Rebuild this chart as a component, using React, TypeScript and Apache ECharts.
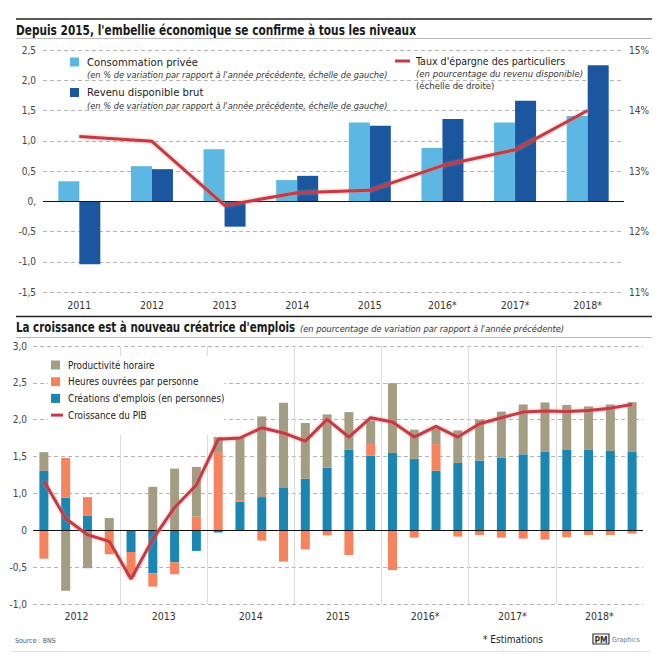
import React, { useEffect, useRef } from "react";
import * as echarts from "echarts";

// ---------- Top chart data ----------
const years = ["2011", "2012", "2013", "2014", "2015", "2016*", "2017*", "2018*"];
const consommation = [0.33, 0.58, 0.86, 0.35, 1.3, 0.88, 1.3, 1.41];
const revenu = [-1.04, 0.53, -0.42, 0.42, 1.25, 1.36, 1.66, 2.25];
const epargne = [13.57, 13.49, 12.43, 12.64, 12.68, 13.09, 13.35, 14.0];
const topLeftTicks = ["-1,5", "-1,0", "-0,5", "0,", "0,5", "1,0", "1,5", "2,0", "2,5"];
const topRightTicks = ["11%", "12%", "13%", "14%", "15%"];

// ---------- Bottom chart data ----------
const quarters = [
  "2012T1", "2012T2", "2012T3", "2012T4",
  "2013T1", "2013T2", "2013T3", "2013T4",
  "2014T1", "2014T2", "2014T3", "2014T4",
  "2015T1", "2015T2", "2015T3", "2015T4",
  "2016T1", "2016T2", "2016T3", "2016T4",
  "2017T1", "2017T2", "2017T3", "2017T4",
  "2018T1", "2018T2", "2018T3", "2018T4",
];
const bottomYears = ["2012", "2013", "2014", "2015", "2016*", "2017*", "2018*"];
const creations = [
  0.805, 0.44, 0.195, 0, -0.294, -0.584, -0.434, -0.28,
  -0.03, 0.39, 0.45, 0.575, 0.7, 0.85, 1.09, 1.01,
  1.05, 0.97, 0.81, 0.914, 0.946, 0.986, 1.03, 1.063,
  1.09, 1.09, 1.077, 1.063,
];
const heures = [
  -0.385, 0.54, 0.255, -0.325, -0.335, -0.18, -0.163, 0.186,
  1.06, 0.02, -0.14, -0.425, -0.26, -0.07, -0.335, 0.16,
  -0.54, -0.1, 0.36, -0.086, -0.063, -0.1, -0.113, -0.127,
  -0.095, -0.063, -0.063, -0.045,
];
const productivite = [
  0.255, -0.82, -0.515, 0.167, 0, 0.59, 0.837, 0.674,
  0.205, 0.855, 1.095, 1.155, 0.755, 0.722, 0.513, 0.32,
  0.945, 0.395, 0.208, 0.441, 0.554, 0.624, 0.677, 0.671,
  0.61, 0.59, 0.63, 0.675,
];
const pib = [
  0.67, 0.16, -0.06, -0.15, -0.66, -0.12, 0.31, 0.615,
  1.234, 1.252, 1.39, 1.32, 1.21, 1.504, 1.265, 1.527,
  1.468, 1.265, 1.41, 1.265, 1.446, 1.527, 1.603, 1.617,
  1.612, 1.626, 1.657, 1.707,
];
const bottomTicks = ["-1,0", "-0,5", "0", "1,0", "1,5", "2,0", "2,5", "3,0"];

const FONT = "'DejaVu Sans Condensed', 'Liberation Sans', sans-serif";
const C_LIGHT = "#5cb8e2";
const C_DARK = "#1b569e";
const C_RED = "#c23a45";
const C_TAN = "#a39d84";
const C_ORANGE = "#f5845e";
const C_TEAL = "#1a86b1";
const GRID_COLOR = "#b4b4b4";

const SQ = "path://M0,0h9v9h-9zM12,9";
const LN = "path://M0,0M12,9M0,3h12v3h-12z";

export default function App() {
  const ref = useRef<HTMLDivElement>(null);

  useEffect(() => {
    document.body.style.margin = "0";
    const chart = echarts.init(ref.current!, undefined, { renderer: "svg" });

    const dashed = { show: true, lineStyle: { color: GRID_COLOR, type: [4, 3] as any, width: 1 } };
    const redLine = {
      width: 3,
      color: C_RED,
      shadowColor: "rgba(235,120,120,0.7)",
      shadowBlur: 3,
    };
    const zeroMark = {
      silent: true,
      symbol: "none",
      label: { show: false },
      lineStyle: { color: "#111", type: "solid", width: 1.2 },
      data: [{ yAxis: 0 }],
    };
    const italic = (text: string, x: number, y: number, size: number) => ({
      type: "text", x, y,
      style: { text, fontFamily: FONT, fontStyle: "italic", fontSize: size, lineHeight: 10, fill: "#333", verticalAlign: "middle" },
    });

    const option: any = {
      animation: false,
      textStyle: { fontFamily: FONT },
      grid: [
        { left: 43, right: 39, top: 50, bottom: 363 },
        { left: 33, right: 20, top: 346, bottom: 51 },
      ],
      xAxis: [
        {
          type: "category",
          gridIndex: 0,
          data: years,
          axisLine: { show: false },
          axisTick: { show: false },
          axisLabel: { color: "#333", fontSize: 10.5, margin: 7, fontFamily: FONT },
        },
        {
          type: "category",
          gridIndex: 1,
          data: quarters,
          position: "bottom",
          axisLine: { show: false },
          axisTick: { show: false },
          axisLabel: { show: false },
        },
        {
          type: "category",
          gridIndex: 1,
          data: bottomYears,
          position: "bottom",
          axisLine: { show: false },
          axisTick: { show: false },
          axisLabel: { color: "#333", fontSize: 10.5, margin: 6, fontFamily: FONT },
          splitLine: {
            show: true,
            interval: 0,
            showMinLine: false,
            showMaxLine: false,
            lineStyle: { color: "#dcdcdc", width: 1 },
          },
        },
      ],
      yAxis: [
        {
          type: "value",
          gridIndex: 0,
          min: -1.5,
          max: 2.5,
          interval: 0.5,
          axisLine: { show: false },
          axisTick: { show: false },
          splitLine: dashed,
          axisLabel: {
            color: "#444",
            fontSize: 10,
            margin: 7,
            formatter: (_v: number, i: number) => topLeftTicks[i],
          },
        },
        {
          type: "value",
          gridIndex: 0,
          position: "right",
          min: 11,
          max: 15,
          interval: 1,
          axisLine: { show: false },
          axisTick: { show: false },
          splitLine: { show: false },
          axisLabel: {
            color: "#444",
            fontSize: 10,
            margin: 5,
            formatter: (_v: number, i: number) => topRightTicks[i],
          },
        },
        {
          type: "value",
          gridIndex: 1,
          min: -1,
          max: 2.5,
          interval: 0.5,
          axisLine: { show: false },
          axisTick: { show: false },
          splitLine: dashed,
          axisLabel: {
            color: "#444",
            fontSize: 10,
            margin: 6,
            formatter: (_v: number, i: number) => bottomTicks[i],
          },
        },
      ],
      legend: [
        {
          data: [{ name: "Consommation privée", icon: SQ }],
          left: 70, top: 56.5, padding: 0, itemWidth: 12, itemHeight: 9,
          selectedMode: false,
          textStyle: { fontSize: 11.2, lineHeight: 11, color: "#222", fontFamily: FONT },
        },
        {
          data: [{ name: "Revenu disponible brut", icon: SQ }],
          left: 70, top: 87, padding: 0, itemWidth: 12, itemHeight: 9,
          selectedMode: false,
          textStyle: { fontSize: 11.2, lineHeight: 11, color: "#222", fontFamily: FONT },
        },
        {
          data: [{ name: "Taux d'épargne des particuliers", icon: "path://M0,0M17,9M1,3h15v3h-15z" }],
          left: 394, top: 55.5, padding: 0, itemWidth: 17, itemHeight: 9,
          selectedMode: false,
          textStyle: { fontSize: 10.6, lineHeight: 11, color: "#222", fontFamily: FONT },
        },
        {
          orient: "vertical",
          left: 48,
          top: 356,
          padding: [3, 0, 14, 3],
          backgroundColor: "#fff",
          itemWidth: 12,
          itemHeight: 9,
          itemGap: 4.7,
          selectedMode: false,
          textStyle: { fontSize: 9.8, lineHeight: 12, color: "#222", fontFamily: FONT },
          data: [
            { name: "Productivité horaire", icon: SQ },
            { name: "Heures ouvrées par personne", icon: SQ },
            { name: "Créations d'emplois (en personnes)", icon: SQ },
            { name: "Croissance du PIB", icon: LN },
          ],
        },
      ],
      series: [
        {
          name: "Consommation privée",
          type: "bar",
          xAxisIndex: 0,
          yAxisIndex: 0,
          data: consommation,
          color: C_LIGHT,
          barWidth: 21,
          barGap: "0%",
          markLine: zeroMark,
        },
        {
          name: "Revenu disponible brut",
          type: "bar",
          xAxisIndex: 0,
          yAxisIndex: 0,
          data: revenu,
          color: C_DARK,
          barWidth: 21,
          barGap: "0%",
        },
        {
          name: "Taux d'épargne des particuliers",
          type: "line",
          xAxisIndex: 0,
          yAxisIndex: 1,
          data: epargne,
          color: C_RED,
          symbol: "none",
          lineStyle: redLine,
          z: 5,
        },
        {
          name: "Créations d'emplois (en personnes)",
          type: "bar",
          xAxisIndex: 1,
          yAxisIndex: 2,
          stack: "emp",
          data: creations,
          color: C_TEAL,
          barWidth: 9,
          markLine: zeroMark,
        },
        {
          name: "Heures ouvrées par personne",
          type: "bar",
          xAxisIndex: 1,
          yAxisIndex: 2,
          stack: "emp",
          data: heures,
          color: C_ORANGE,
          barWidth: 9,
        },
        {
          name: "Productivité horaire",
          type: "bar",
          xAxisIndex: 1,
          yAxisIndex: 2,
          stack: "emp",
          data: productivite,
          color: C_TAN,
          barWidth: 9,
        },
        {
          name: "Croissance du PIB",
          type: "line",
          xAxisIndex: 1,
          yAxisIndex: 2,
          data: pib,
          color: C_RED,
          symbol: "none",
          lineStyle: redLine,
          z: 5,
        },
      ],
      graphic: [
        { type: "line", shape: { x1: 16, y1: 19, x2: 652, y2: 19 }, style: { stroke: "#222", lineWidth: 1.5 } },
        {
          type: "text", x: 16, y: 30, scaleX: 0.87,
          style: { text: "Depuis 2015, l'embellie économique se confirme à tous les niveaux", fontFamily: FONT, fontWeight: "bold", fontSize: 13.5, fill: "#1a1a1a", verticalAlign: "middle" },
        },
        { type: "line", shape: { x1: 16, y1: 38.5, x2: 652, y2: 38.5 }, style: { stroke: "#bbb", lineWidth: 1 } },
        italic("(en % de variation par rapport à l'année précédente, échelle de gauche)", 87, 74.5, 9.2),
        italic("(en % de variation par rapport à l'année précédente, échelle de gauche)", 87, 105, 9.2),
        italic("(en pourcentage du revenu disponible)", 416, 73.5, 9.5),
        {
          type: "text", x: 416, y: 85.5,
          style: { text: "(échelle de droite)", fontFamily: FONT, fontSize: 9.5, lineHeight: 10, fill: "#333", verticalAlign: "middle" },
        },
        { type: "line", shape: { x1: 16, y1: 316.5, x2: 652, y2: 316.5 }, style: { stroke: "#222", lineWidth: 1.5 } },
        {
          type: "text", x: 16, y: 327, scaleX: 0.85,
          style: { text: "La croissance est à nouveau créatrice d'emplois", fontFamily: FONT, fontWeight: "bold", fontSize: 13.5, fill: "#1a1a1a", verticalAlign: "middle" },
        },
        italic("(en pourcentage de variation par rapport à l'année précédente)", 300, 328, 9.2),
        { type: "line", shape: { x1: 16, y1: 337.5, x2: 652, y2: 337.5 }, style: { stroke: "#bbb", lineWidth: 1 } },
        {
          type: "text", x: 15, y: 641,
          style: { text: "Source : BNS", fontFamily: FONT, fontSize: 7, fill: "#555", verticalAlign: "middle" },
        },
        {
          type: "text", x: 483, y: 639,
          style: { text: "* Estimations", fontFamily: FONT, fontSize: 10, fill: "#222", verticalAlign: "middle" },
        },
        { type: "rect", shape: { x: 593, y: 634, width: 16, height: 10 }, style: { fill: "#fff", stroke: "#333", lineWidth: 1.2 } },
        {
          type: "text", x: 601, y: 639.5,
          style: { text: "PM", fontFamily: FONT, fontWeight: "bold", fontSize: 8.5, fill: "#333", align: "center", verticalAlign: "middle" },
        },
        {
          type: "text", x: 612, y: 640,
          style: { text: "Graphics", fontFamily: FONT, fontSize: 7, fill: "#777", verticalAlign: "middle" },
        },
        { type: "line", shape: { x1: 10, y1: 651.5, x2: 650, y2: 651.5 }, style: { stroke: "#e2e2e2", lineWidth: 1 } },
      ],
    };

    chart.setOption(option);
    return () => chart.dispose();
  }, []);

  return <div ref={ref} style={{ width: 663, height: 655 }} />;
}
